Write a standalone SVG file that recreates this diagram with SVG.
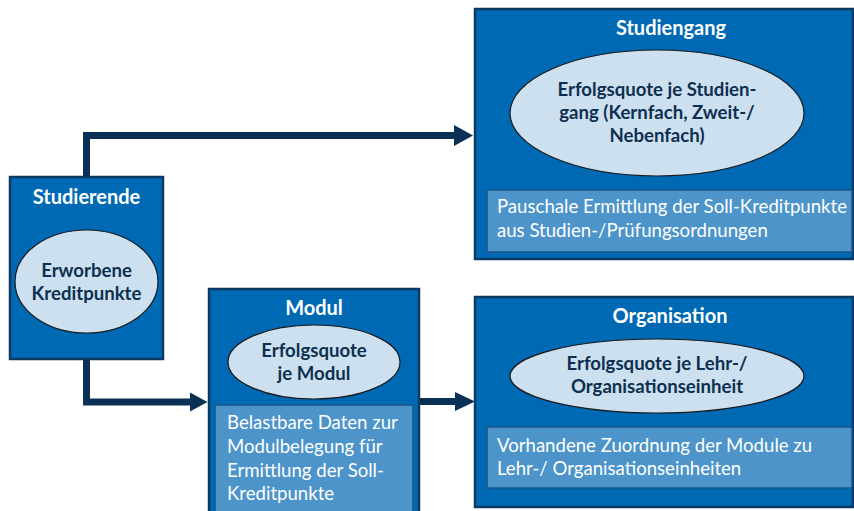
<svg xmlns="http://www.w3.org/2000/svg" width="854" height="511" viewBox="0 0 854 511">
  <style>
    .box { fill: #0069b4; stroke: #0d3a63; stroke-width: 2.5; }
    .inner { fill: #4c94c9; stroke: #1d5487; stroke-width: 1.5; }
    .oval { fill: #cde0ef; stroke: #1a1a1a; stroke-width: 1.2; }
    .title { font-family: Lato, "Liberation Sans", sans-serif; font-weight: bold; font-size: 20px; fill: #ffffff; text-anchor: middle; }
    .otext { font-family: Lato, "Liberation Sans", sans-serif; font-weight: bold; font-size: 18.6px; fill: #0d2f50; text-anchor: middle; }
    .itext { font-family: Lato, "Liberation Sans", sans-serif; font-size: 18.6px; fill: #ffffff; }
    .link { fill: none; stroke: #0a3155; stroke-width: 7; stroke-linejoin: miter; }
    .head { fill: #0a3155; }
  </style>
  <rect width="854" height="511" fill="#ffffff"/>

  <!-- connectors -->
  <g id="connectors">
    <path class="link" d="M86.5 178 V135.5 H456"/>
    <polygon class="head" points="454,125 473,135.5 454,146"/>
    <path class="link" d="M86.5 358 V402 H192"/>
    <polygon class="head" points="190,392.5 207.5,402 190,411.5"/>
    <path class="link" d="M420 401.5 H457"/>
    <polygon class="head" points="455,392 475,401.5 455,411"/>
  </g>

  <!-- Studierende -->
  <g id="studierende">
    <rect class="box" x="10" y="177" width="153" height="182"/>
    <text class="title" x="86.5" y="204">Studierende</text>
    <ellipse class="oval" cx="86.5" cy="281.5" rx="71.5" ry="51.5"/>
    <text class="otext" x="86.5" y="277">Erworbene</text>
    <text class="otext" x="86.5" y="300">Kreditpunkte</text>
  </g>

  <!-- Modul -->
  <g id="modul">
    <rect class="box" x="209" y="289" width="210" height="230"/>
    <text class="title" x="314" y="315">Modul</text>
    <ellipse class="oval" cx="314" cy="362" rx="86" ry="37"/>
    <text class="otext" x="314" y="357">Erfolgsquote</text>
    <text class="otext" x="314" y="380">je Modul</text>
    <rect class="inner" x="215" y="405" width="198" height="112"/>
    <text class="itext" x="227" y="429">Belastbare Daten zur</text>
    <text class="itext" x="227" y="453">Modulbelegung für</text>
    <text class="itext" x="227" y="477">Ermittlung der Soll-</text>
    <text class="itext" x="227" y="500">Kreditpunkte</text>
  </g>

  <!-- Studiengang -->
  <g id="studiengang">
    <rect class="box" x="475" y="9" width="378" height="250"/>
    <text class="title" x="671" y="35">Studiengang</text>
    <ellipse class="oval" cx="657" cy="113" rx="147" ry="63"/>
    <text class="otext" x="657" y="96">Erfolgsquote je Studien-</text>
    <text class="otext" x="657" y="119">gang (Kernfach, Zweit-/</text>
    <text class="otext" x="657" y="142">Nebenfach)</text>
    <rect class="inner" x="487" y="190" width="365" height="62"/>
    <text class="itext" x="497" y="213">Pauschale Ermittlung der Soll-Kreditpunkte</text>
    <text class="itext" x="497" y="237">aus Studien-/Prüfungsordnungen</text>
  </g>

  <!-- Organisation -->
  <g id="organisation">
    <rect class="box" x="475" y="297" width="378" height="210"/>
    <text class="title" x="670" y="323">Organisation</text>
    <ellipse class="oval" cx="657" cy="376" rx="147" ry="37"/>
    <text class="otext" x="657" y="370">Erfolgsquote je Lehr-/</text>
    <text class="otext" x="657" y="393">Organisationseinheit</text>
    <rect class="inner" x="487" y="427" width="365" height="61"/>
    <text class="itext" x="497" y="452">Vorhandene Zuordnung der Module zu</text>
    <text class="itext" x="497" y="475">Lehr-/ Organisationseinheiten</text>
  </g>
</svg>
